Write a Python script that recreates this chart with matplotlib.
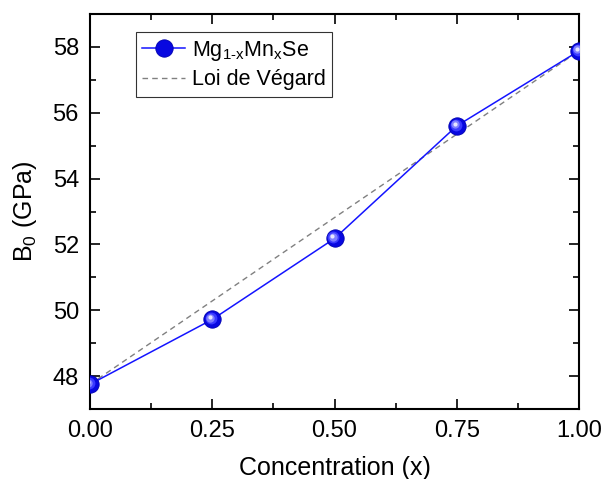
import numpy as np
import matplotlib.pyplot as plt
from matplotlib.transforms import offset_copy

plt.rcParams['font.family'] = ['Liberation Sans', 'DejaVu Sans']
plt.rcParams['mathtext.fontset'] = 'custom'
plt.rcParams['mathtext.rm'] = 'Liberation Sans'

conc = [0.0, 0.25, 0.5, 0.75, 1.0]
b0 = [47.75, 49.72, 52.18, 55.6, 57.88]
vegard_x = [conc[0], conc[-1]]
vegard = [b0[0], b0[-1]]

fig = plt.figure(figsize=(6.03, 4.79), dpi=100)
ax = fig.add_axes([90 / 603, 1 - 409 / 479, 489 / 603, 395 / 479])

ax.plot(conc, b0, '-', color='#1414ff', lw=1.1, marker='o', ms=12.5,
        mfc='#0808e0', mec='#0000b0', mew=0.6, zorder=3,
        label=r'Mg$_{\mathrm{1\text{-}x}}$Mn$_{\mathrm{x}}$Se')
# fake sphere shading
for dx, ms, col in [(-0.8, 8.5, '#3a3aff'), (-1.3, 6, '#7f7fff'), (-1.6, 3, '#e6e6ff')]:
    tr = offset_copy(ax.transData, fig=fig, x=dx, y=-dx, units='points')
    ax.plot(conc, b0, 'o', ms=ms, mfc=col, mec='none', transform=tr, zorder=4)
ax.plot(vegard_x, vegard, '--', color='gray', lw=1.0, dashes=(4, 3),
        label='Loi de Végard', zorder=2)

ax.set_xlim(0, 1)
ax.set_ylim(47, 59)
ax.set_xticks([0, 0.25, 0.5, 0.75, 1.0])
ax.set_xticklabels(['0.00', '0.25', '0.50', '0.75', '1.00'])
ax.set_xticks([0.125, 0.375, 0.625, 0.875], minor=True)
ax.set_yticks([48, 50, 52, 54, 56, 58])
ax.set_yticks([47, 49, 51, 53, 55, 57, 59], minor=True)
ax.tick_params(which='both', direction='in', top=True, right=True,
               labelsize=17, width=1.2)
ax.tick_params(which='major', length=7, pad=8)
ax.tick_params(which='minor', length=4)
for s in ax.spines.values():
    s.set_linewidth(1.5)

ax.set_xlabel('Concentration (x)', fontsize=18, labelpad=10)
ax.set_ylabel('B$_0$ (GPa)', fontsize=18, labelpad=10)

leg = ax.legend(loc='upper left', bbox_to_anchor=(0.094, 0.954), fontsize=15.5,
                frameon=True, fancybox=False, edgecolor='black', borderaxespad=0,
                handlelength=2.0, borderpad=0.3, labelspacing=0.3, handletextpad=0.3)
leg.get_frame().set_linewidth(0.8)

fig.savefig('out.png', dpi=100)
